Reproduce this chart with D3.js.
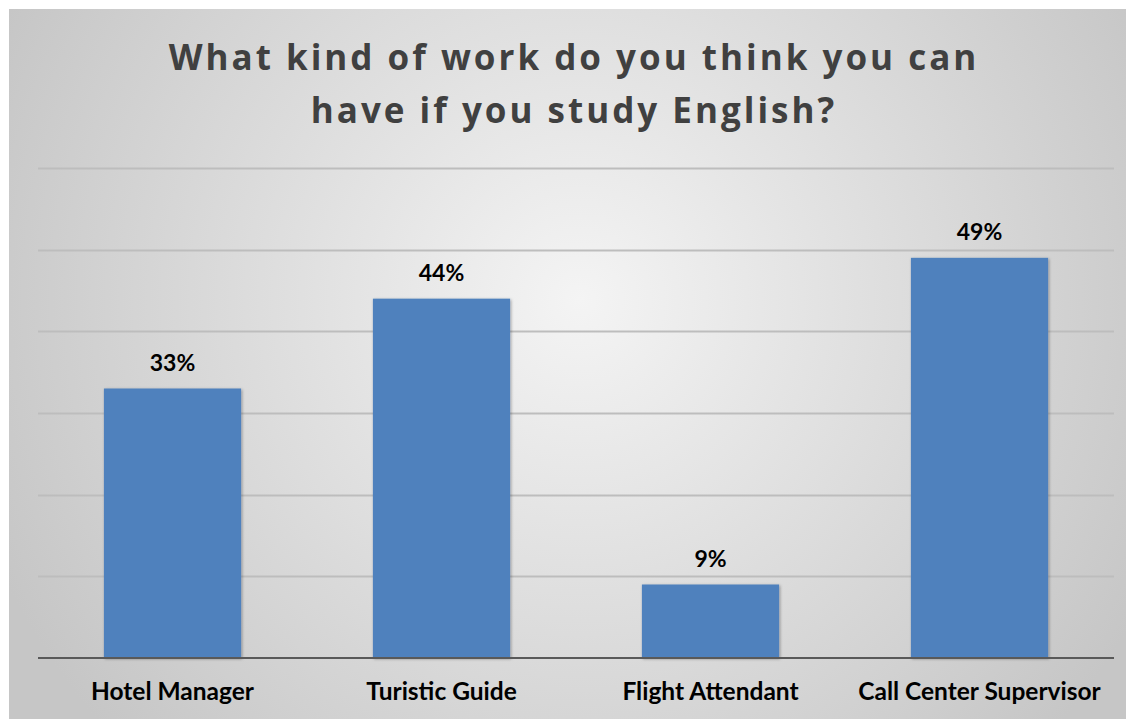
<!DOCTYPE html>
<html>
<head>
<meta charset="utf-8">
<script src="https://cdn.jsdelivr.net/npm/d3@7"></script>
<style>
  html, body { margin: 0; padding: 0; background: #ffffff; }
  svg { display: block; }
</style>
</head>
<body>
<div id="chart"></div>
<script>
// Survey answers: share of students per job option
const categories = ["Hotel Manager", "Turistic Guide", "Flight Attendant", "Call Center Supervisor"];
const values = [33, 44, 9, 49];
const valueLabels = ["33%", "44%", "9%", "49%"];
const gridTicks = [0, 10, 20, 30, 40, 50, 60];
const titleLines = ["What kind of work do you think you can", "have if you study English?"];

const W = 1135, H = 719;
const svg = d3.select("#chart").append("svg").attr("width", W).attr("height", H);

const defs = svg.append("defs");
const grad = defs.append("radialGradient")
  .attr("id", "bg").attr("gradientUnits", "userSpaceOnUse")
  .attr("cx", 580).attr("cy", 300).attr("r", 640);
grad.append("stop").attr("offset", "0%").attr("stop-color", "#f4f4f4");
grad.append("stop").attr("offset", "100%").attr("stop-color", "#c6c6c6");

const shadow = defs.append("filter").attr("id", "shadow")
  .attr("x", "-10%").attr("y", "-10%").attr("width", "125%").attr("height", "125%");
shadow.append("feDropShadow").attr("dx", 1).attr("dy", 1).attr("stdDeviation", 1.5)
  .attr("flood-color", "#000").attr("flood-opacity", 0.35);

// chart background panel
svg.append("rect").attr("x", 9).attr("y", 9).attr("width", 1117).attr("height", 710)
  .attr("fill", "url(#bg)");

// title
svg.append("text")
  .attr("x", 574).attr("text-anchor", "middle")
  .attr("font-family", "'Open Sans', sans-serif").attr("font-weight", 700)
  .attr("font-size", 35).attr("letter-spacing", 3).attr("fill", "#404040")
  .selectAll("tspan").data(titleLines).join("tspan")
  .attr("x", 574).attr("y", (d, i) => 70 + i * 53).text(d => d);

const plot = { left: 38, right: 1114, top: 168, bottom: 658 };

const x = d3.scaleBand().domain(categories)
  .range([plot.left, plot.right]).paddingInner(0.49).paddingOuter(0.245);
const y = d3.scaleLinear().domain([0, 60]).range([plot.bottom, plot.top]);

// horizontal gridlines
svg.append("g").selectAll("line").data(gridTicks.slice(1)).join("line")
  .attr("x1", plot.left).attr("x2", plot.right)
  .attr("y1", d => Math.round(y(d)) + 0.5).attr("y2", d => Math.round(y(d)) + 0.5)
  .attr("stroke", "#bdbdbd").attr("stroke-width", 2);

// bars
svg.append("g").selectAll("rect").data(values).join("rect")
  .attr("x", (d, i) => x(categories[i]))
  .attr("y", d => y(d))
  .attr("width", x.bandwidth())
  .attr("height", d => y(0) - y(d))
  .attr("fill", "#4f81bd")
  .attr("filter", "url(#shadow)");

// baseline axis
const axis = svg.append("g").attr("transform", `translate(0,${plot.bottom})`)
  .call(d3.axisBottom(x).tickSize(0).tickPadding(25));
axis.select(".domain").attr("stroke", "#595959").attr("stroke-width", 2)
  .attr("d", `M${plot.left},0H${plot.right}`);
axis.selectAll("text")
  .attr("font-family", "Lato, 'Open Sans', sans-serif").attr("font-weight", 700)
  .attr("font-size", 24.5).attr("fill", "#000");

// value labels
svg.append("g").selectAll("text").data(values).join("text")
  .attr("x", (d, i) => x(categories[i]) + x.bandwidth() / 2)
  .attr("y", d => y(d) - 18)
  .attr("text-anchor", "middle")
  .attr("font-family", "Lato, 'Open Sans', sans-serif").attr("font-weight", 700)
  .attr("font-size", 23).attr("fill", "#000")
  .text((d, i) => valueLabels[i]);
</script>
</body>
</html>
